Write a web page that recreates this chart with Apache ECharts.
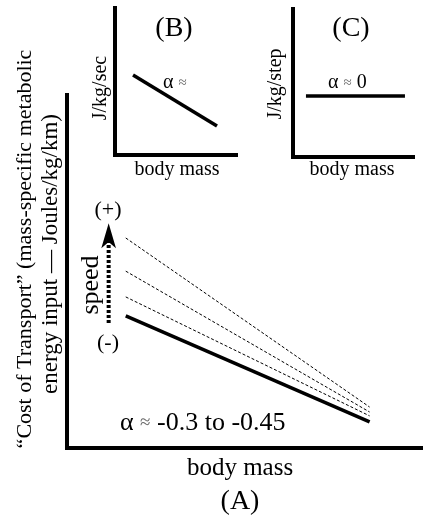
<!DOCTYPE html>
<html>
<head>
<meta charset="utf-8">
<script src="https://cdn.jsdelivr.net/npm/echarts@6/dist/echarts.min.js"></script>
<style>html,body{margin:0;padding:0;background:#fff}#c{width:423px;height:525px}</style>
</head>
<body>
<div id="c"></div>
<script>
// ---- data (schematic values in each panel's 0-100 data space) ----
// Panel A: cost of transport vs body mass, at increasing speeds
const massA = [16.5, 85];
const cotSlowest = [37.4, 7.4];
const cotSpeed1 = [42.8, 9.1];
const cotSpeed2 = [50.1, 10.2];
const cotSpeed3 = [59.5, 11.6];
// speed arrow (shaft and arrow tip)
const speedArrowMass = [11.7, 11.7];
const speedArrowCost = [35.4, 58.6];
const speedArrowTip = [11.7, 63.7];
// Panel B: J/kg/sec vs body mass
const massB = [14.9, 84.3];
const powerB = [54.4, 19.7];
// Panel C: J/kg/step vs body mass
const massC = [10.8, 93.3];
const stepC = [41.2, 41.2];
// text
const labelA = '(A)', labelB = '(B)', labelC = '(C)';
const xName = 'body mass';
const yNameA1 = '\u201CCost of Transport\u201D (mass-specific metabolic';
const yNameA2 = 'energy input \u2014 Joules/kg/km)';
const yNameB = 'J/kg/sec';
const yNameC = 'J/kg/step';

const pairs = (xs, ys) => xs.map((x, i) => [x, ys[i]]);
const FONT = 'Liberation Serif';
const axisStyle = {show: true, onZero: false, lineStyle: {color: '#000', width: 4, cap: 'square'}};
function mkX(idx) {
  return {type: 'value', gridIndex: idx, min: 0, max: 100, axisLine: axisStyle,
    axisTick: {show: false}, axisLabel: {show: false}, splitLine: {show: false}};
}
function mkY(idx) { return mkX(idx); }

const chart = echarts.init(document.getElementById('c'), null, {renderer: 'canvas'});
function txt(x, y, text, size, opts) {
  opts = opts || {};
  return {type: 'text', x: x, y: y, rotation: opts.rot || 0, silent: true,
    style: {text: text, fontFamily: FONT, fontSize: size, fill: '#000',
      align: opts.align || 'center', verticalAlign: 'middle', rich: opts.rich}};
}
const richAlpha = {a: {fontFamily: FONT, fontSize: 20, fill: '#000'},
                   g: {fontFamily: FONT, fontSize: 15, fill: '#666'}};
const richAlphaA = {a: {fontFamily: FONT, fontSize: 26, fill: '#000'},
                    g: {fontFamily: FONT, fontSize: 19, fill: '#666'}};

chart.setOption({
  animation: false,
  backgroundColor: '#fff',
  grid: [
    {left: 67, top: 95, width: 356, height: 353},
    {left: 115, top: 8, width: 121, height: 147},
    {left: 293, top: 9, width: 120, height: 148}
  ],
  xAxis: [mkX(0), mkX(1), mkX(2)],
  yAxis: [mkY(0), mkY(1), mkY(2)],
  series: [
    {type: 'line', xAxisIndex: 0, yAxisIndex: 0, data: pairs(massA, cotSpeed3), symbol: 'none',
      lineStyle: {color: '#000', width: 1, type: [3, 2]}},
    {type: 'line', xAxisIndex: 0, yAxisIndex: 0, data: pairs(massA, cotSpeed2), symbol: 'none',
      lineStyle: {color: '#000', width: 1, type: [3, 2]}},
    {type: 'line', xAxisIndex: 0, yAxisIndex: 0, data: pairs(massA, cotSpeed1), symbol: 'none',
      lineStyle: {color: '#000', width: 1, type: [3, 2]}},
    {type: 'line', xAxisIndex: 0, yAxisIndex: 0, data: pairs(massA, cotSlowest), symbol: 'none',
      lineStyle: {color: '#000', width: 3.5}},
    {type: 'line', xAxisIndex: 0, yAxisIndex: 0, data: pairs(speedArrowMass, speedArrowCost), symbol: 'none',
      lineStyle: {color: '#000', width: 4, type: [3, 2], cap: 'butt'}},
    {type: 'scatter', xAxisIndex: 0, yAxisIndex: 0, data: [speedArrowTip], symbol: 'arrow',
      symbolSize: [11, 25], itemStyle: {color: '#000', opacity: 1}, z: 5},
    {type: 'line', xAxisIndex: 1, yAxisIndex: 1, data: pairs(massB, powerB), symbol: 'none',
      lineStyle: {color: '#000', width: 3.5}},
    {type: 'line', xAxisIndex: 2, yAxisIndex: 2, data: pairs(massC, stepC), symbol: 'none',
      lineStyle: {color: '#000', width: 3.5}}
  ],
  graphic: [
    txt(25, 249, yNameA1, 22, {rot: Math.PI / 2}),
    txt(51, 254, yNameA2, 23, {rot: Math.PI / 2}),
    txt(108, 210, '(+)', 22),
    txt(108, 343, '(-)', 22),
    txt(91, 285, 'speed', 26, {rot: Math.PI / 2}),
    txt(120, 423, '{a|\u03B1} {g|\u2248} {a|-0.3 to -0.45}', 26, {align: 'left', rich: richAlphaA}),
    txt(240, 468, xName, 25),
    txt(240, 502, labelA, 28),
    txt(174, 29, labelB, 28),
    txt(351, 29, labelC, 28),
    txt(101, 88, yNameB, 20, {rot: Math.PI / 2}),
    txt(276, 84, yNameC, 20, {rot: Math.PI / 2}),
    txt(177, 170, xName, 20),
    txt(352, 170, xName, 20),
    txt(163, 83, '{a|\u03B1} {g|\u2248}', 20, {align: 'left', rich: richAlpha}),
    txt(328, 83, '{a|\u03B1} {g|\u2248} {a|0}', 20, {align: 'left', rich: richAlpha})
  ]
});
</script>
</body>
</html>
